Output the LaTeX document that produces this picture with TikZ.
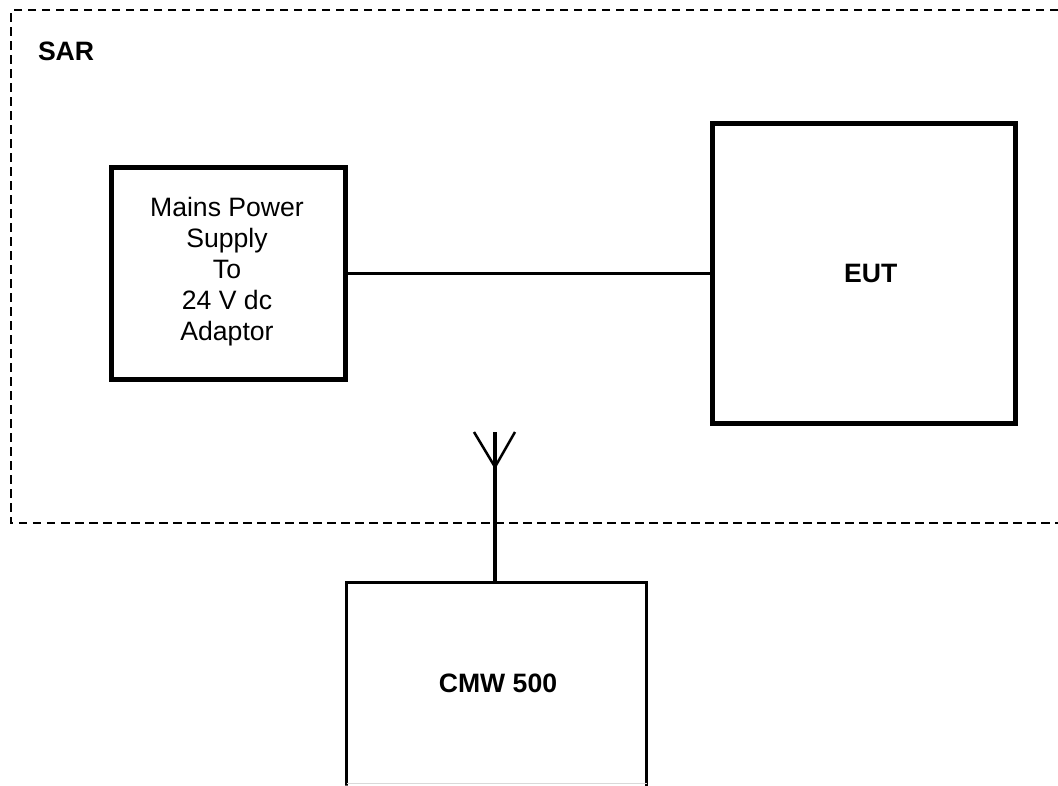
\documentclass[tikz,border=0pt]{standalone}
\usepackage{fontspec}
\setmainfont{Liberation Sans}
\usetikzlibrary{positioning}

\begin{document}
\begin{tikzpicture}
    [
      x=1pt, y=-1pt,
      my text/.style={font=\fontsize{26.6}{31}\selectfont, align=center, inner sep=0pt, outer sep=0pt},
      my label/.style={my text, font=\fontsize{26.6}{31}\selectfont\bfseries},
      my box/.style={draw, inner sep=0pt, outer sep=0pt, minimum width=234.5pt, minimum height=212pt, line width=4.8pt},
      my big box/.style={my label, draw, minimum width=303pt, minimum height=300pt, line width=5pt},
      my frame/.style={dash pattern=on 8.5pt off 5.5pt, line width=1.8pt},
      my stem/.style={line width=4pt},
      my arm/.style={line width=2.5pt}
    ]
    \useasboundingbox (0,0) rectangle (1058,785);
    % dashed area, open on the right
    \coordinate (frame top) at (1058,10);
    \coordinate (frame corner 1) at (11,10);
    \coordinate (frame corner 2) at (11,523);
    \coordinate (frame bottom) at (1058,523);
    \draw [my frame] (frame top) -- (frame corner 1) -- (frame corner 2) -- (frame bottom);
    \node (sar) [my label, anchor=west] at (38,51) {SAR};
    % boxes
    \node (mains) [my box] at (228.6,273.6) {};
    \node (mains text) [my text, xshift=-1.6pt, yshift=2pt] at (mains) {Mains Power\\Supply\\To\\24 V dc\\Adaptor};
    \node (eut) [my big box, right=366.8pt of mains] {\hspace*{13pt}EUT};
    \draw [line width=3pt] (mains) -- (eut);
    % box runs off the page
    \node (cmw) [my label, minimum width=300pt, minimum height=201pt] at (496.5,683) {\hspace*{3pt}CMW 500};
    \draw [line width=3.5pt, line cap=rect] (cmw.south west) -- ++(0,2) -- (cmw.north west) -- (cmw.north east) -- (cmw.south east) -- ++(0,2);
    \draw [gray!30, line width=1pt] (cmw.south west) -- (cmw.south east);
    % antenna
    \coordinate (tip) at (495,432);
    \coordinate (fork) at (495,467);
    \coordinate (arm left) at (474,432);
    \coordinate (arm right) at (515,432);
    \draw [my stem] (cmw.north -| tip) -- (tip);
    \draw [my arm] (arm left) -- (fork) -- (arm right);
  \end{tikzpicture}
\end{document}
